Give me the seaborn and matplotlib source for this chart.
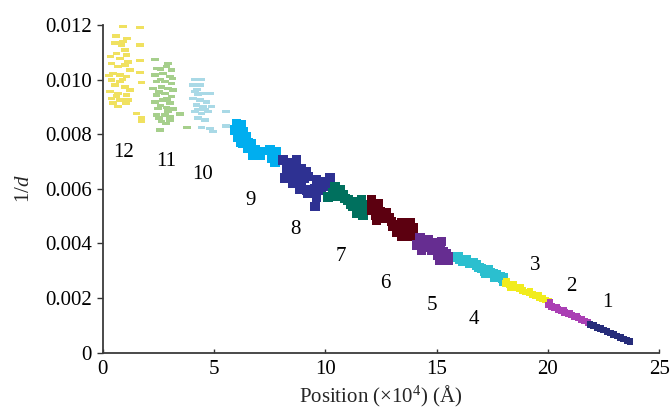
import numpy as np
import pandas as pd
import matplotlib
matplotlib.use('Agg')
import matplotlib.pyplot as plt
import seaborn as sns

sns.set_style('ticks')
plt.rcParams['font.family'] = ['Liberation Serif', 'DejaVu Serif']
plt.rcParams['mathtext.fontset'] = 'custom'
plt.rcParams['mathtext.rm'] = 'Liberation Serif'
plt.rcParams['mathtext.it'] = 'Liberation Serif:italic'

# ── data: (position x10^4 A, 1/d), per domain ──
seg12 = [(0.93, 0.01197), (1.67, 0.01192), (0.55, 0.01134), (0.93, 0.01139), (0.85, 0.01127),
         (1.67, 0.01127), (0.63, 0.01097), (1.00, 0.01109), (1.08, 0.01090), (0.78, 0.01078),
         (1.67, 0.01070), (0.40, 0.01060), (0.70, 0.01048), (1.00, 0.01054), (1.23, 0.01035),
         (0.48, 0.01023), (0.78, 0.01017), (1.08, 0.01011), (1.67, 0.01027), (0.40, 0.00999),
         (0.78, 0.00993), (0.55, 0.00980), (1.00, 0.00974), (1.23, 0.00962), (0.33, 0.00956),
         (0.70, 0.00950), (1.08, 0.00944), (1.75, 0.00989), (0.40, 0.00932), (0.78, 0.00926),
         (1.15, 0.00926), (0.48, 0.00914), (0.70, 0.00901), (1.53, 0.00877), (1.75, 0.00859),
         (1.75, 0.00846), (0.60, 0.01160), (0.35, 0.01085), (1.15, 0.01065), (0.90, 0.01000),
         (0.62, 0.00940), (1.05, 0.00915), (0.30, 0.01015), (1.10, 0.01150)]
seg11 = [(2.35, 0.01075), (2.95, 0.01060), (2.42, 0.01042), (2.87, 0.01048), (3.10, 0.01036),
         (2.35, 0.01017), (2.72, 0.01023), (3.02, 0.01011), (2.42, 0.00993), (2.80, 0.00993),
         (3.10, 0.00987), (2.27, 0.00968), (2.65, 0.00974), (2.95, 0.00968), (3.17, 0.00962),
         (2.42, 0.00944), (2.80, 0.00950), (3.10, 0.00938), (2.35, 0.00919), (2.72, 0.00926),
         (3.02, 0.00914), (2.50, 0.00895), (2.87, 0.00899), (3.17, 0.00892), (2.42, 0.00871),
         (2.80, 0.00871), (3.02, 0.00864), (3.47, 0.00874), (2.65, 0.00846), (3.02, 0.00852),
         (2.57, 0.00816), (3.80, 0.00826), (2.60, 0.01000), (2.55, 0.00955), (2.90, 0.00930),
         (2.60, 0.00905), (2.95, 0.00885), (2.55, 0.00860), (2.85, 0.00840), (3.15, 0.01005),
         (2.60, 0.01040)]
seg10 = [(4.14, 0.01001), (4.45, 0.01001), (4.07, 0.00980), (4.37, 0.00980), (4.14, 0.00956),
         (4.52, 0.00950), (4.82, 0.00950), (4.07, 0.00932), (4.37, 0.00926), (4.67, 0.00919),
         (4.22, 0.00907), (4.52, 0.00901), (4.89, 0.00901), (4.14, 0.00883), (4.45, 0.00877),
         (4.74, 0.00883), (4.29, 0.00859), (4.59, 0.00852), (4.45, 0.00826), (4.82, 0.00822),
         (4.97, 0.00810), (5.54, 0.00883), (5.54, 0.00830), (4.30, 0.00945), (4.60, 0.00890),
         (4.30, 0.00890), (4.25, 0.00965)]
seg9 = [(6.02, 0.00840), (6.24, 0.00834), (5.94, 0.00816), (6.31, 0.00810), (6.09, 0.00791),
        (6.47, 0.00791), (6.31, 0.00767), (6.69, 0.00767), (6.54, 0.00749), (6.84, 0.00743),
        (7.06, 0.00736), (6.76, 0.00724), (7.06, 0.00724), (7.51, 0.00743), (7.79, 0.00736),
        (7.61, 0.00714), (7.74, 0.00699), (6.15, 0.00825), (6.20, 0.00800), (6.40, 0.00780),
        (6.55, 0.00770), (6.60, 0.00757), (6.90, 0.00730), (6.20, 0.00772), (7.65, 0.00728)]
seg8 = [(8.11, 0.00706), (8.41, 0.00694), (8.71, 0.00706), (8.26, 0.00675), (8.63, 0.00669),
        (8.94, 0.00675), (9.16, 0.00663), (8.49, 0.00651), (8.86, 0.00651), (9.23, 0.00645),
        (8.19, 0.00639), (8.56, 0.00621), (8.94, 0.00614), (9.16, 0.00596), (8.86, 0.00599),
        (9.61, 0.00633), (9.98, 0.00626), (10.21, 0.00639), (9.53, 0.00602), (9.83, 0.00596),
        (9.61, 0.00569), (9.53, 0.00535), (9.23, 0.00584), (8.40, 0.00680), (8.75, 0.00660),
        (9.05, 0.00640), (9.80, 0.00612), (10.05, 0.00610), (8.30, 0.00660)]
seg7 = [(10.43, 0.00608), (10.66, 0.00596), (10.13, 0.00571), (10.51, 0.00574), (10.80, 0.00578),
        (11.03, 0.00559), (11.33, 0.00553), (11.63, 0.00559), (11.25, 0.00535), (11.55, 0.00529),
        (11.78, 0.00523), (11.40, 0.00511), (11.70, 0.00504), (10.35, 0.00585), (10.90, 0.00565),
        (11.15, 0.00545), (11.85, 0.00540), (10.60, 0.00580)]
seg6 = [(12.08, 0.00559), (12.38, 0.00547), (12.08, 0.00523), (12.45, 0.00516), (12.75, 0.00511),
        (12.30, 0.00486), (12.68, 0.00492), (12.98, 0.00480), (13.05, 0.00462), (13.43, 0.00474),
        (13.80, 0.00474), (13.20, 0.00443), (13.57, 0.00449), (13.95, 0.00456), (13.43, 0.00425),
        (13.80, 0.00427), (12.20, 0.00540), (12.25, 0.00505), (12.55, 0.00500), (12.85, 0.00495),
        (13.25, 0.00470), (13.60, 0.00460), (13.25, 0.00455), (13.65, 0.00438)]
seg5 = [(14.25, 0.00419), (14.62, 0.00413), (14.10, 0.00395), (14.47, 0.00388), (14.85, 0.00401),
        (15.22, 0.00407), (14.32, 0.00376), (14.77, 0.00374), (15.15, 0.00382), (15.07, 0.00358),
        (15.45, 0.00364), (15.67, 0.00352), (15.15, 0.00340), (15.52, 0.00340), (14.40, 0.00405),
        (14.90, 0.00385), (15.30, 0.00370), (15.35, 0.00350)]
seg4 = [(16.04, 0.00342), (16.34, 0.00340), (16.49, 0.00327), (16.79, 0.00321), (17.02, 0.00309),
        (17.32, 0.00303), (17.39, 0.00291), (17.69, 0.00285), (17.99, 0.00273), (15.95, 0.00350),
        (16.20, 0.00335), (16.65, 0.00330), (16.90, 0.00312), (17.15, 0.00300), (17.55, 0.00290),
        (17.85, 0.00278), (18.00, 0.00262), (17.60, 0.00275), (17.20, 0.00290)]
seg3 = [(18.10, 0.00253), (18.25, 0.00248), (18.40, 0.00243), (18.55, 0.00238), (18.70, 0.00233),
        (18.85, 0.00228), (19.00, 0.00223), (19.15, 0.00218), (19.30, 0.00213), (19.45, 0.00208),
        (19.60, 0.00203), (19.75, 0.00198), (19.90, 0.00193), (20.02, 0.00189), (18.15, 0.00263),
        (18.45, 0.00252), (18.80, 0.00240), (19.20, 0.00225), (19.60, 0.00210), (18.30, 0.00238)]
seg2 = [(20.00, 0.00175), (20.15, 0.00170), (20.30, 0.00164), (20.45, 0.00159), (20.60, 0.00154),
        (20.75, 0.00148), (20.90, 0.00143), (21.05, 0.00138), (21.20, 0.00132), (21.35, 0.00127),
        (21.50, 0.00122), (21.65, 0.00116), (21.80, 0.00111), (20.10, 0.00183), (20.40, 0.00168),
        (20.70, 0.00156), (21.00, 0.00146), (21.30, 0.00134)]
seg1 = [(21.90, 0.00104), (22.05, 0.00099), (22.20, 0.00093), (22.35, 0.00088), (22.50, 0.00083),
        (22.65, 0.00077), (22.80, 0.00072), (22.95, 0.00066), (23.10, 0.00061), (23.25, 0.00056),
        (23.40, 0.00050), (23.55, 0.00045), (23.68, 0.00040)]

segments = {'12': seg12, '11': seg11, '10': seg10, '9': seg9, '8': seg8, '7': seg7,
            '6': seg6, '5': seg5, '4': seg4, '3': seg3, '2': seg2, '1': seg1}

seg_colors = {'12': '#F0E160', '11': '#A6CF8C', '10': '#A9D9E6', '9': '#00AEEF',
              '8': '#2E3192', '7': '#00705E', '6': '#5C0010', '5': '#662D91',
              '4': '#2BBFCF', '3': '#F1EC1C', '2': '#AA3FB4', '1': '#262C7A'}

# label positions for the domain numbers
label_names = ['12', '11', '10', '9', '8', '7', '6', '5', '4', '3', '2', '1']
label_x = [0.96, 2.84, 4.50, 6.66, 8.68, 10.70, 12.72, 14.79, 16.68, 19.41, 21.03, 22.65]
label_y = [0.00735, 0.00699, 0.00651, 0.00559, 0.00453, 0.00354, 0.00255, 0.00171,
           0.00120, 0.00320, 0.00244, 0.00182]

rows = []
for name, pts in segments.items():
    for px, py in pts:
        rows.append((name, px, py))
df = pd.DataFrame(rows, columns=['seg', 'x', 'y'])

# ── plot ──
fig, ax = plt.subplots(figsize=(6.7, 4.12), dpi=100)
fig.subplots_adjust(left=0.153, right=0.984, top=0.939, bottom=0.144)

dash = np.array([[-1, -0.45], [1, -0.45], [1, 0.45], [-1, 0.45], [-1, -0.45]])
sns.scatterplot(data=df[df.seg.isin(['12', '11', '10'])], x='x', y='y', hue='seg',
                palette=seg_colors, marker=dash, s=30, linewidth=0, legend=False, ax=ax)
sns.scatterplot(data=df[df.seg.isin(['9', '8', '7', '6', '5', '4'])], x='x', y='y', hue='seg',
                palette=seg_colors, marker='s', s=48, linewidth=0, legend=False, ax=ax)
sns.scatterplot(data=df[df.seg.isin(['3', '2', '1'])], x='x', y='y', hue='seg',
                palette=seg_colors, marker='s', s=22, linewidth=0, legend=False, ax=ax)

for name, lx, ly in zip(label_names, label_x, label_y):
    ax.text(lx, ly, name, ha='center', va='center', fontsize=15, color='black')

ax.set_xlim(0, 25)
ax.set_ylim(0, 0.012)
ax.set_xticks([0, 5, 10, 15, 20, 25])
ax.set_xticklabels(['0', '5', '10', '15', '20', '25'])
ax.set_yticks([0, 0.002, 0.004, 0.006, 0.008, 0.010, 0.012])
ax.set_yticklabels(['0', '0.002', '0.004', '0.006', '0.008', '0.010', '0.012'])
ax.tick_params(axis='x', direction='in', length=3, width=1, labelsize=15, pad=5, colors='#333333')
ax.tick_params(axis='y', direction='out', length=4, width=1, labelsize=15, colors='#333333')
ax.tick_params(labelcolor='black')
for side in ['top', 'right']:
    ax.spines[side].set_visible(False)
for side in ['left', 'bottom']:
    ax.spines[side].set_color('#3a3a3a')
    ax.spines[side].set_linewidth(1.3)

ax.set_xlabel(r'Position (×10$^{4}$) (Å)', fontsize=15, labelpad=4)
ax.set_ylabel(r'1/$d$', fontsize=15, labelpad=8)

plt.savefig('out.png', dpi=100)
